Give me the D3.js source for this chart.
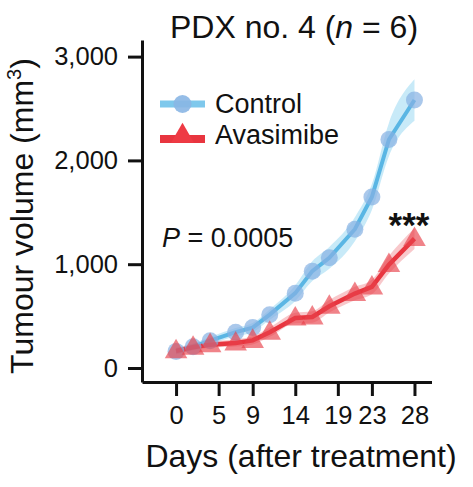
<!DOCTYPE html>
<html>
<head>
<meta charset="utf-8">
<script src="https://cdn.jsdelivr.net/npm/d3@7"></script>
<style>
  html, body { margin: 0; padding: 0; background: #fff; }
  svg { display: block; font-family: "Liberation Sans", Arial, Helvetica, sans-serif; }
</style>
</head>
<body>
<svg id="chart" width="473" height="487"></svg>
<script>
// ---- data ----
const days = [0, 2, 4, 7, 9, 11, 14, 16, 18, 21, 23, 25, 28];
const controlMean = [160, 205, 263, 345, 389, 514, 721, 933, 1061, 1337, 1647, 2201, 2582];
const controlSem  = [30, 30, 35, 40, 45, 50, 75, 95, 105, 115, 125, 160, 200];
const avasMean    = [165, 200, 225, 241, 266, 345, 482, 492, 594, 717, 781, 996, 1247];
const avasSem     = [30, 30, 30, 35, 40, 45, 50, 55, 60, 65, 70, 85, 100];
const xTicks = [0, 5, 9, 14, 19, 23, 28];
const yTicks = [0, 1000, 2000, 3000];
const seriesNames = ["Control", "Avasimibe"];

const svg = d3.select("#chart");
const x = d3.scaleLinear().domain([-4, 30]).range([142, 431.5]);
const y = d3.scaleLinear().domain([-135, 3160]).range([382, 40]);
const ink = "#111";

// ---- axes ----
const gx = svg.append("g").attr("transform", `translate(0,${y(-135)})`)
  .call(d3.axisBottom(x).tickValues(xTicks).tickSize(14).tickSizeOuter(0).tickPadding(8));
const gy = svg.append("g").attr("transform", `translate(${x(-4)},0)`)
  .call(d3.axisLeft(y).tickValues(yTicks).tickFormat(d3.format(",")).tickSize(14).tickSizeOuter(0).tickPadding(10));
[gx, gy].forEach(g => {
  g.select(".domain").attr("stroke", ink).attr("stroke-width", 3);
  g.selectAll(".tick line").attr("stroke", ink).attr("stroke-width", 3);
  g.selectAll(".tick text").attr("fill", ink).attr("font-size", 25.5)
    .attr("font-family", '"Liberation Sans", Arial, sans-serif');
});
gx.selectAll(".tick text").attr("dy", "0.78em");

// ---- bands ----
const area = (m, s) => d3.area().x((d, i) => x(days[i])).y0((d, i) => y(m[i] - s[i])).y1((d, i) => y(m[i] + s[i]))
  .curve(d3.curveMonotoneX)(days);
svg.append("path").attr("d", area(controlMean, controlSem)).attr("fill", "#9ad8f3").attr("opacity", 0.55);
svg.append("path").attr("d", area(avasMean, avasSem)).attr("fill", "#f29aa0").attr("opacity", 0.55);

// ---- lines ----
const line = m => d3.line().x((d, i) => x(days[i])).y((d, i) => y(m[i]))(days);
svg.append("path").attr("d", line(controlMean)).attr("fill", "none").attr("stroke", "#5ab6e4").attr("stroke-width", 4);
svg.append("path").attr("d", line(avasMean)).attr("fill", "none").attr("stroke", "#e8353f").attr("stroke-width", 4.5);

// ---- markers ----
svg.append("g").selectAll("circle").data(days).join("circle")
  .attr("cx", (d, i) => x(d)).attr("cy", (d, i) => y(controlMean[i])).attr("r", 8.5)
  .attr("fill", "#86b1e3").attr("opacity", 0.7);
const tri = d3.symbol().type(d3.symbolTriangle).size(220);
svg.append("g").selectAll("path").data(days).join("path")
  .attr("d", tri).attr("transform", (d, i) => `translate(${x(d)},${y(avasMean[i]) + 1})`)
  .attr("fill", "#e8404a").attr("opacity", 0.65);

// ---- legend ----
const lg = svg.append("g");
lg.append("line").attr("x1", 160).attr("x2", 205).attr("y1", 104).attr("y2", 104)
  .attr("stroke", "#7ec8ec").attr("stroke-width", 7);
lg.append("circle").attr("cx", 182.5).attr("cy", 104).attr("r", 9).attr("fill", "#8ab6e4").attr("opacity", 0.9);
lg.append("line").attr("x1", 160).attr("x2", 205).attr("y1", 139).attr("y2", 139)
  .attr("stroke", "#e8353f").attr("stroke-width", 8);
lg.append("path").attr("d", d3.symbol().type(d3.symbolTriangle).size(230))
  .attr("transform", "translate(182.5,136)").attr("fill", "#ee3a44");
lg.selectAll("text").data(seriesNames).join("text")
  .attr("x", 215).attr("y", (d, i) => 113 + i * 31).attr("font-size", 27).attr("fill", ink).text(d => d);

// ---- annotations ----
const pt = svg.append("text").attr("x", 162).attr("y", 247).attr("font-size", 27).attr("fill", ink);
pt.append("tspan").attr("font-style", "italic").text("P");
pt.append("tspan").text(" = 0.0005");
svg.append("text").attr("x", 409).attr("y", 237).attr("text-anchor", "middle").attr("font-size", 35)
  .attr("font-weight", "bold").attr("fill", ink).text("***");

// ---- titles ----
const tt = svg.append("text").attr("x", 294).attr("y", 38).attr("text-anchor", "middle").attr("font-size", 32).attr("fill", ink);
tt.append("tspan").text("PDX no. 4 (");
tt.append("tspan").attr("font-style", "italic").text("n");
tt.append("tspan").text(" = 6)");

svg.append("text").attr("x", 301).attr("y", 467).attr("text-anchor", "middle").attr("font-size", 32)
  .attr("fill", ink).text("Days (after treatment)");

const yt = svg.append("text").attr("transform", "translate(33,216) rotate(-90)").attr("text-anchor", "middle")
  .attr("font-size", 32).attr("fill", ink);
yt.append("tspan").text("Tumour volume (mm");
yt.append("tspan").attr("font-size", 20).attr("dy", -12).text("3");
yt.append("tspan").attr("dy", 12).text(")");
</script>
</body>
</html>
